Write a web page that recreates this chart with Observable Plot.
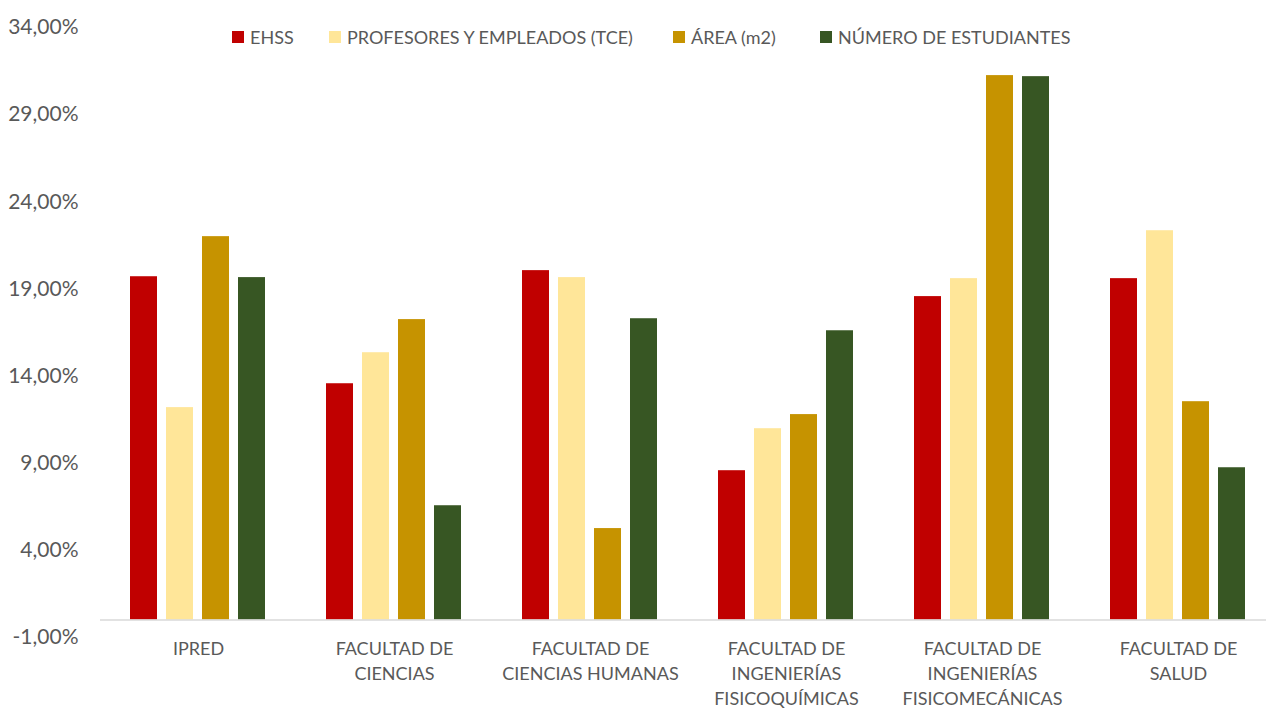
<!DOCTYPE html>
<html>
<head>
<meta charset="utf-8">
<script src="https://cdn.jsdelivr.net/npm/d3@7"></script>
<script src="https://cdn.jsdelivr.net/npm/@observablehq/plot@0.6"></script>
<style>
  html, body { margin: 0; padding: 0; background: #fff; }
  #wrap { position: relative; width: 1266px; height: 710px; font-family: Lato, "Open Sans", sans-serif; }
  #legend { position: absolute; top: 25px; left: 0; width: 1266px; height: 24px; color: #595959; font-size: 18px; }
  .item { position: absolute; top: 0; display: flex; align-items: center; height: 24px; white-space: nowrap; }
  .sw { width: 12px; height: 12px; margin-right: 6px; display: inline-block; }
</style>
</head>
<body>
<div id="wrap">
  <div id="chart"></div>
  <div id="legend"></div>
</div>
<script>
const categories = ["IPRED", "FACULTAD DE CIENCIAS", "FACULTAD DE CIENCIAS HUMANAS", "FACULTAD DE INGENIERÍAS FISICOQUÍMICAS", "FACULTAD DE INGENIERÍAS FISICOMECÁNICAS", "FACULTAD DE SALUD"];
const categoryLabels = ["IPRED", "FACULTAD DE\nCIENCIAS", "FACULTAD DE\nCIENCIAS HUMANAS", "FACULTAD DE\nINGENIERÍAS\nFISICOQUÍMICAS", "FACULTAD DE\nINGENIERÍAS\nFISICOMECÁNICAS", "FACULTAD DE\nSALUD"];
const series = ["EHSS", "PROFESORES Y EMPLEADOS (TCE)", "ÁREA (m2)", "NÚMERO DE ESTUDIANTES"];
const colors = ["#C00000", "#FFE699", "#C69300", "#375623"];
const ehss = [19.70, 13.56, 20.05, 8.57, 18.56, 19.59];
const profesores = [12.19, 15.34, 19.65, 10.98, 19.59, 22.34];
const area = [22.00, 17.24, 5.25, 11.79, 31.24, 12.53];
const estudiantes = [19.65, 6.56, 17.29, 16.60, 31.18, 8.74];
const yTicks = [-1, 4, 9, 14, 19, 24, 29, 34];
const legendX = [232, 329, 673, 820];

const seriesValues = [ehss, profesores, area, estudiantes];
const data = [];
categories.forEach((c, i) => {
  series.forEach((s, j) => data.push({cat: c, series: s, value: seriesValues[j][i]}));
});
const labelOf = new Map(categories.map((c, i) => [c, categoryLabels[i]]));

const chart = Plot.plot({
  width: 1266,
  height: 710,
  marginLeft: 100,
  marginRight: -10,
  marginTop: 27,
  marginBottom: 73,
  style: {fontFamily: "Lato, 'Open Sans', sans-serif", color: "#595959", background: "#fff"},
  fx: {domain: categories, padding: 0, label: null},
  x: {domain: series, paddingInner: 0.237, paddingOuter: 0.79, axis: null},
  y: {domain: [-1, 34], label: null},
  color: {domain: series, range: colors},
  marks: [
    Plot.barY(data, {fx: "cat", x: "series", y: "value", fill: "series"}),
    Plot.ruleY([0], {stroke: "#D9D9D9", strokeWidth: 1.5}),
    Plot.axisY({ticks: yTicks, tickSize: 0, tickPadding: 22, fontSize: 21, fill: "#595959",
      tickFormat: d => d.toFixed(2).replace(".", ",") + "%"}),
    Plot.axisFx({anchor: "bottom", tickSize: 0, tickPadding: 0, fontSize: 18, lineHeight: 1.38,
      fill: "#595959", tickFormat: d => labelOf.get(d), label: null})
  ]
});
document.getElementById("chart").appendChild(chart);

const legend = document.getElementById("legend");
series.forEach((s, i) => {
  const it = document.createElement("div");
  it.className = "item";
  it.style.left = legendX[i] + "px";
  const sw = document.createElement("span");
  sw.className = "sw";
  sw.style.background = colors[i];
  it.appendChild(sw);
  it.appendChild(document.createTextNode(s));
  legend.appendChild(it);
});
</script>
</body>
</html>
